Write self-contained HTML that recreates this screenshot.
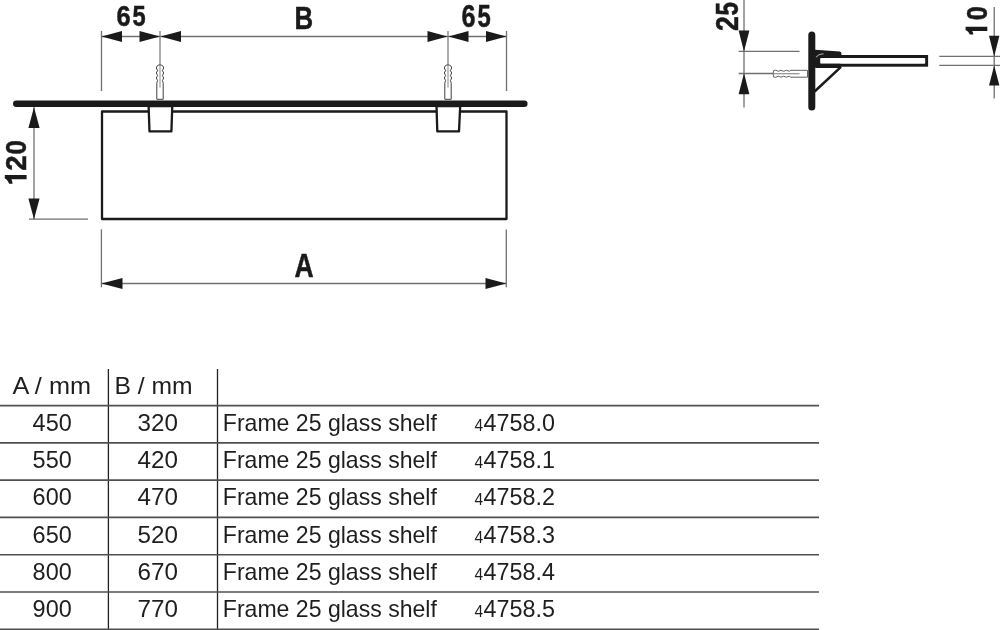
<!DOCTYPE html>
<html><head><meta charset="utf-8">
<style>
html,body{margin:0;padding:0;background:#fff;}
body{width:1000px;height:630px;overflow:hidden;position:relative;}
svg{position:absolute;left:0;top:0;filter:grayscale(1);}
.t{font-family:"Liberation Sans",sans-serif;fill:#1e1e1e;font-size:24px;}
.g{font-family:"Liberation Sans",sans-serif;font-weight:bold;fill:#1a1a1a;stroke:#1a1a1a;stroke-width:0.5px;}
</style></head><body>
<svg width="1000" height="630" viewBox="0 0 1000 630">
<!-- ===== TOP VIEW ===== -->
<g stroke="#707070" stroke-width="1.3" fill="none">
  <line x1="101.5" y1="36.5" x2="506.5" y2="36.5"/>
  <line x1="101.5" y1="31" x2="101.5" y2="91"/>
  <line x1="506.5" y1="31" x2="506.5" y2="91"/>
  <line x1="160" y1="31" x2="160" y2="65" stroke="#808080"/>
  <line x1="448" y1="31" x2="448" y2="65" stroke="#808080"/>
</g>
<g fill="#1a1a1a">
  <polygon points="101.5,36.5 122,31 122,42"/>
  <polygon points="160,36.5 139.5,31 139.5,42"/>
  <polygon points="160.5,36.5 181,31 181,42"/>
  <polygon points="447.5,36.5 427.5,31 427.5,42"/>
  <polygon points="448.5,36.5 468.5,31 468.5,42"/>
  <polygon points="506.5,36.5 486,31 486,42"/>
</g>

<!-- frame -->
<rect x="102" y="111.5" width="404.5" height="107.5" fill="none" stroke="#1a1a1a" stroke-width="2.3" stroke-linejoin="round"/>
<!-- brackets -->
<polygon points="148.6,106 149.5,131.4 171.4,131.4 172.3,106" fill="#fff" stroke="#1a1a1a" stroke-width="2.3" stroke-linejoin="round"/>
<polygon points="436.5,106 437.3,131.4 459,131.4 460.2,106" fill="#fff" stroke="#1a1a1a" stroke-width="2.3" stroke-linejoin="round"/>
<!-- shelf -->
<line x1="16.3" y1="103.75" x2="524.3" y2="103.75" stroke="#1a1a1a" stroke-width="6.5" stroke-linecap="round"/>

<!-- anchors top view -->
<g fill="#fff" stroke="#404040" stroke-width="1">
  <path d="M156.8,99.3 L156.8,83.5 Q156.8,82 157.6,80.6 Q155,78 157.6,75.5 Q155,73 157.6,70.5 Q155,67.8 157.4,65.6 Q158,65 160,65 Q162,65 162.6,65.6 Q165,67.8 162.4,70.5 Q165,73 162.4,75.5 Q165,78 162.4,80.6 Q163.2,82 163.2,83.5 L163.2,99.3 Z"/>
  <line x1="160" y1="65" x2="160" y2="87.5" stroke="#8a8a8a" stroke-width="1"/>
</g>
<g transform="translate(288,0)"><g fill="#fff" stroke="#404040" stroke-width="1">
  <path d="M156.8,99.3 L156.8,83.5 Q156.8,82 157.6,80.6 Q155,78 157.6,75.5 Q155,73 157.6,70.5 Q155,67.8 157.4,65.6 Q158,65 160,65 Q162,65 162.6,65.6 Q165,67.8 162.4,70.5 Q165,73 162.4,75.5 Q165,78 162.4,80.6 Q163.2,82 163.2,83.5 L163.2,99.3 Z"/>
  <line x1="160" y1="65" x2="160" y2="87.5" stroke="#8a8a8a" stroke-width="1"/>
</g></g>

<!-- 120 dimension -->
<g stroke="#707070" stroke-width="1.3" fill="none">
  <line x1="34" y1="107" x2="34" y2="219.2"/>
  <line x1="29" y1="219.2" x2="88" y2="219.2"/>
</g>
<g fill="#1a1a1a">
  <polygon points="34,107.2 28.4,128 39.6,128"/>
  <polygon points="34,219.2 28.4,198.5 39.6,198.5"/>
</g>

<!-- A dimension -->
<g stroke="#707070" stroke-width="1.3" fill="none">
  <line x1="101.4" y1="229.4" x2="101.4" y2="287.3"/>
  <line x1="506.3" y1="229.4" x2="506.3" y2="287.3"/>
  <line x1="101.4" y1="283.5" x2="506.3" y2="283.5"/>
</g>
<g fill="#1a1a1a">
  <polygon points="101.4,283.5 122.5,278 122.5,289"/>
  <polygon points="506.3,283.5 485.5,278 485.5,289"/>
</g>

<!-- ===== SIDE VIEW ===== -->
<g stroke="#707070" stroke-width="1.3" fill="none">
  <line x1="744" y1="0" x2="744" y2="107.6"/>
  <line x1="738.6" y1="51.4" x2="799.5" y2="51.4"/>
  <line x1="738.6" y1="73.5" x2="773" y2="73.5"/>
  <line x1="994.2" y1="7" x2="994.2" y2="98.6"/>
  <line x1="939.3" y1="56.4" x2="1000" y2="56.4"/>
  <line x1="939.3" y1="65.4" x2="1000" y2="65.4"/>
</g>
<g fill="#1a1a1a">
  <polygon points="744,51.4 738.6,30.5 749.4,30.5"/>
  <polygon points="744,73.3 738.6,94.3 749.4,94.3"/>
  <polygon points="994.2,56.4 989,35.8 999.4,35.8"/>
  <polygon points="994.2,65.4 989,85.5 999.4,85.5"/>
</g>

<!-- wall plate -->
<line x1="811.8" y1="35" x2="811.8" y2="107" stroke="#1a1a1a" stroke-width="7" stroke-linecap="round"/>
<!-- glass -->
<rect x="815" y="55" width="113.1" height="11.7" fill="#1a1a1a"/>
<rect x="820.2" y="57.9" width="105" height="5.9" rx="0.8" fill="#fff"/>
<rect x="815" y="63.8" width="26" height="4.1" rx="1" fill="#1a1a1a"/>
<!-- bracket top -->
<path d="M815,49.8 L839.8,51.6 Q841.4,52 841.4,53.6 L841.4,55.5 L815,55.5 Z" fill="#1a1a1a"/>
<path d="M816.3,57.4 Q817.5,54.3 823.5,53.8" fill="none" stroke="#fff" stroke-width="0.7"/>
<!-- strut -->
<line x1="841" y1="66.8" x2="814.6" y2="91.5" stroke="#1a1a1a" stroke-width="2.5"/>
<!-- anchor side -->
<g fill="#fff" stroke="#505050" stroke-width="0.9">
  <path d="M807.5,70.3 L791,70.3 Q790,70.3 789.3,71.3 Q786.4,69.3 783.6,71.3 Q780.9,69.3 778.3,71.3 Q775.5,69.4 773.6,70.6 Q772.6,73.75 773.6,76.9 Q775.5,78.1 778.3,76.2 Q780.9,78.2 783.6,76.2 Q786.4,78.2 789.3,76.2 Q790,77.2 791,77.2 L807.5,77.2 Z"/>
  <line x1="772.6" y1="73.75" x2="799.5" y2="73.75" stroke="#777" stroke-width="1"/>
</g>

<!-- labels -->
<text class="g" style="font-size:29.45px" transform="translate(116.44,26.21) scale(0.862,1)">6</text>
<text class="g" style="font-size:29.58px" transform="translate(132.53,26.21) scale(0.800,1)">5</text>
<text class="g" style="font-size:32.25px" transform="translate(294.55,29.38) scale(0.800,1)">B</text>
<text class="g" style="font-size:30.96px" transform="translate(461.44,26.78) scale(0.814,1)">6</text>
<text class="g" style="font-size:30.83px" transform="translate(477.42,26.78) scale(0.773,1)">5</text>
<text class="g" style="font-size:32.57px" transform="translate(294.47,277.10) scale(0.813,1)">A</text>
<path fill="#1a1a1a" transform="translate(26.60,183.80) rotate(-90)" d="M4.50,0 L8.70,0 L8.70,-21.80 L5.30,-21.80 Q4.10,-18.80 0,-17.50 L0,-14.00 Q2.70,-14.20 4.50,-15.20 Z"/>
<text class="g" style="font-size:30.28px" transform="translate(26.30,170.73) rotate(-90) scale(0.910,1)">2</text>
<text class="g" style="font-size:29.86px" transform="translate(26.00,154.47) rotate(-90) scale(0.861,1)">0</text>
<text class="g" style="font-size:30.83px" transform="translate(738.29,31.10) rotate(-90) scale(0.867,1)">2</text>
<text class="g" style="font-size:30.83px" transform="translate(737.98,15.48) rotate(-90) scale(0.780,1)">5</text>
<path fill="#1a1a1a" transform="translate(987.30,34.60) rotate(-90)" d="M3.70,0 L7.90,0 L7.90,-21.70 L4.50,-21.70 Q3.30,-18.70 0,-17.40 L0,-13.90 Q1.90,-14.10 3.70,-15.10 Z"/>
<text class="g" style="font-size:30.41px" transform="translate(986.99,20.16) rotate(-90) scale(0.832,1)">0</text>
<!-- ===== TABLE ===== -->
<g stroke="#222" stroke-width="1.3">
  <line x1="108.4" y1="369" x2="108.4" y2="630"/>
  <line x1="217.5" y1="369" x2="217.5" y2="630"/>
</g>
<g stroke="#505050" stroke-width="1.6">
  <line x1="0" y1="405.60" x2="819" y2="405.60"/>
  <line x1="0" y1="442.87" x2="819" y2="442.87"/>
  <line x1="0" y1="480.14" x2="819" y2="480.14"/>
  <line x1="0" y1="517.41" x2="819" y2="517.41"/>
  <line x1="0" y1="554.68" x2="819" y2="554.68"/>
  <line x1="0" y1="591.95" x2="819" y2="591.95"/>
  <line x1="0" y1="629.22" x2="819" y2="629.22"/>
</g>
<text class="t" x="12.4" y="394" textLength="78.6" lengthAdjust="spacingAndGlyphs">A / mm</text>
<text class="t" x="114.5" y="394" textLength="78.1" lengthAdjust="spacingAndGlyphs">B / mm</text>
<text class="t" x="32.6" y="431.20" textLength="39.1" lengthAdjust="spacingAndGlyphs">450</text>
<text class="t" x="137.5" y="431.20" textLength="40.4" lengthAdjust="spacingAndGlyphs">320</text>
<text class="t" x="222.8" y="431.20" textLength="214.1" lengthAdjust="spacingAndGlyphs">Frame 25 glass shelf</text>
<text class="t" x="474.4" y="431.20" style="font-size:16.5px" textLength="8.6" lengthAdjust="spacingAndGlyphs">4</text>
<text class="t" x="483.5" y="431.20" textLength="71.4" lengthAdjust="spacingAndGlyphs">4758.0</text>
<text class="t" x="32.6" y="468.32" textLength="39.1" lengthAdjust="spacingAndGlyphs">550</text>
<text class="t" x="137.5" y="468.32" textLength="40.4" lengthAdjust="spacingAndGlyphs">420</text>
<text class="t" x="222.8" y="468.32" textLength="214.1" lengthAdjust="spacingAndGlyphs">Frame 25 glass shelf</text>
<text class="t" x="474.4" y="468.32" style="font-size:16.5px" textLength="8.6" lengthAdjust="spacingAndGlyphs">4</text>
<text class="t" x="483.5" y="468.32" textLength="71.4" lengthAdjust="spacingAndGlyphs">4758.1</text>
<text class="t" x="32.6" y="505.44" textLength="39.1" lengthAdjust="spacingAndGlyphs">600</text>
<text class="t" x="137.5" y="505.44" textLength="40.4" lengthAdjust="spacingAndGlyphs">470</text>
<text class="t" x="222.8" y="505.44" textLength="214.1" lengthAdjust="spacingAndGlyphs">Frame 25 glass shelf</text>
<text class="t" x="474.4" y="505.44" style="font-size:16.5px" textLength="8.6" lengthAdjust="spacingAndGlyphs">4</text>
<text class="t" x="483.5" y="505.44" textLength="71.4" lengthAdjust="spacingAndGlyphs">4758.2</text>
<text class="t" x="32.6" y="542.56" textLength="39.1" lengthAdjust="spacingAndGlyphs">650</text>
<text class="t" x="137.5" y="542.56" textLength="40.4" lengthAdjust="spacingAndGlyphs">520</text>
<text class="t" x="222.8" y="542.56" textLength="214.1" lengthAdjust="spacingAndGlyphs">Frame 25 glass shelf</text>
<text class="t" x="474.4" y="542.56" style="font-size:16.5px" textLength="8.6" lengthAdjust="spacingAndGlyphs">4</text>
<text class="t" x="483.5" y="542.56" textLength="71.4" lengthAdjust="spacingAndGlyphs">4758.3</text>
<text class="t" x="32.6" y="579.68" textLength="39.1" lengthAdjust="spacingAndGlyphs">800</text>
<text class="t" x="137.5" y="579.68" textLength="40.4" lengthAdjust="spacingAndGlyphs">670</text>
<text class="t" x="222.8" y="579.68" textLength="214.1" lengthAdjust="spacingAndGlyphs">Frame 25 glass shelf</text>
<text class="t" x="474.4" y="579.68" style="font-size:16.5px" textLength="8.6" lengthAdjust="spacingAndGlyphs">4</text>
<text class="t" x="483.5" y="579.68" textLength="71.4" lengthAdjust="spacingAndGlyphs">4758.4</text>
<text class="t" x="32.6" y="616.80" textLength="39.1" lengthAdjust="spacingAndGlyphs">900</text>
<text class="t" x="137.5" y="616.80" textLength="40.4" lengthAdjust="spacingAndGlyphs">770</text>
<text class="t" x="222.8" y="616.80" textLength="214.1" lengthAdjust="spacingAndGlyphs">Frame 25 glass shelf</text>
<text class="t" x="474.4" y="616.80" style="font-size:16.5px" textLength="8.6" lengthAdjust="spacingAndGlyphs">4</text>
<text class="t" x="483.5" y="616.80" textLength="71.4" lengthAdjust="spacingAndGlyphs">4758.5</text>
</svg>
</body></html>
